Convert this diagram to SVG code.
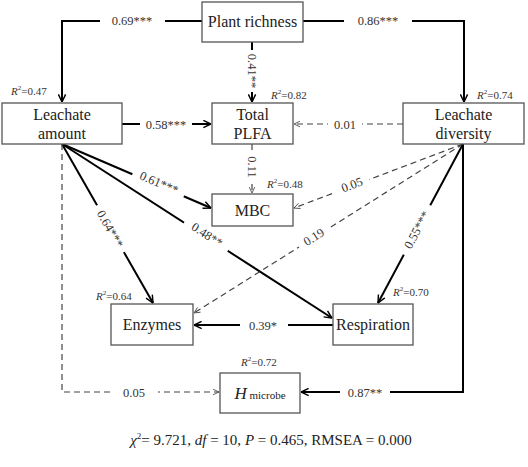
<svg xmlns="http://www.w3.org/2000/svg" width="528" height="467" viewBox="0 0 528 467" font-family="'Liberation Serif', 'Times New Roman', serif">
<defs>
<marker id="a" viewBox="0 0 10 10" refX="9.5" refY="5" markerWidth="9" markerHeight="9" markerUnits="userSpaceOnUse" orient="auto">
<path d="M1,1 L9.5,5 L1,9" fill="none" stroke="#000" stroke-width="1.6"/>
</marker>
<marker id="d" viewBox="0 0 10 10" refX="9.5" refY="5" markerWidth="7" markerHeight="7" markerUnits="userSpaceOnUse" orient="auto">
<path d="M1,1 L9.5,5 L1,9" fill="none" stroke="#444" stroke-width="1.2"/>
</marker>
</defs>
<style>
.box{fill:#fff;stroke:#555;stroke-width:1.3}
.t{font-size:16px;fill:#222;text-anchor:middle}
.l{font-size:12.5px;fill:#333;text-anchor:middle}
.r{font-size:11px;fill:#333}
.s{fill:none;stroke:#000;stroke-width:2}
.dash{fill:none;stroke:#444;stroke-width:1.2;stroke-dasharray:6,4}
.bg{fill:#fff}
</style>
<rect width="528" height="467" fill="#fff"/>
<g id="connectors">
<path class="s" d="M202,21 H62 V102" marker-end="url(#a)"/>
<path class="s" d="M303,21 H464 V102" marker-end="url(#a)"/>
<path class="s" d="M252,42 V102" marker-end="url(#a)"/>
<path class="s" d="M122,124 H211" marker-end="url(#a)"/>
<path class="dash" d="M403,124 H294" marker-end="url(#d)"/>
<path class="dash" d="M252,144 V193" marker-end="url(#d)"/>
<path class="s" d="M62,144 L211,208" marker-end="url(#a)"/>
<path class="s" d="M62,144 L332,318" marker-end="url(#a)"/>
<path class="s" d="M62,144 L153,303" marker-end="url(#a)"/>
<path class="dash" d="M463,144 L294,208" marker-end="url(#d)"/>
<path class="dash" d="M463,144 L194,313" marker-end="url(#d)"/>
<path class="s" d="M463,144 L378,303" marker-end="url(#a)"/>
<path class="s" d="M333,325 H194" marker-end="url(#a)"/>
<path class="dash" d="M62,144 V392 H219" marker-end="url(#d)"/>
<path class="s" d="M463,144 V392 H301" marker-end="url(#a)"/>
</g>
<g id="labels">
<rect class="bg" x="100" y="12" width="65" height="16"/>
<text class="l" x="132" y="25">0.69***</text>
<rect class="bg" x="344" y="12" width="68" height="16"/>
<text class="l" x="378" y="25">0.86***</text>
<rect class="bg" x="245" y="50" width="14" height="42"/>
<text class="l" transform="translate(252,71) rotate(90)" y="4">0.41**</text>
<rect class="bg" x="140" y="116" width="52" height="16"/>
<text class="l" x="166" y="129">0.58***</text>
<rect class="bg" x="328" y="116" width="34" height="16"/>
<text class="l" x="345" y="129">0.01</text>
<rect class="bg" x="245" y="152" width="14" height="30"/>
<text class="l" transform="translate(252,167) rotate(90)" y="4">0.11</text>
<g transform="translate(159,183) rotate(23.1)"><rect class="bg" x="-28" y="-8" width="56" height="15"/><text class="l" y="4">0.61***</text></g>
<g transform="translate(207,235) rotate(32.7)"><rect class="bg" x="-26" y="-8" width="52" height="15"/><text class="l" y="4">0.48**</text></g>
<g transform="translate(110,229) rotate(60.4)"><rect class="bg" x="-27" y="-8" width="54" height="15"/><text class="l" y="4">0.64***</text></g>
<g transform="translate(352,185) rotate(-20.6)"><rect class="bg" x="-18" y="-8" width="36" height="15"/><text class="l" y="4">0.05</text></g>
<g transform="translate(314,237) rotate(-32)"><rect class="bg" x="-18" y="-8" width="36" height="15"/><text class="l" y="4">0.19</text></g>
<g transform="translate(417,230) rotate(-62)"><rect class="bg" x="-28" y="-8" width="56" height="15"/><text class="l" y="4">0.55***</text></g>
<rect class="bg" x="240" y="317" width="48" height="16"/>
<text class="l" x="263" y="330">0.39*</text>
<rect class="bg" x="112" y="384" width="46" height="16"/>
<text class="l" x="134" y="397">0.05</text>
<rect class="bg" x="340" y="384" width="50" height="16"/>
<text class="l" x="365" y="397">0.87**</text>
</g>
<g id="plant-richness">
<rect class="box" x="202" y="2" width="101" height="40"/>
<text class="t" x="252.5" y="27">Plant richness</text>
</g>
<g id="leachate-amount">
<rect class="box" x="2" y="103" width="120" height="41"/>
<text class="t" x="62" y="120">Leachate</text>
<text class="t" x="62" y="139">amount</text>
<text class="r" x="11" y="95"><tspan font-style="italic">R</tspan><tspan font-size="7" dy="-5">2</tspan><tspan dy="5">=0.47</tspan></text>
</g>
<g id="total-plfa">
<rect class="box" x="212" y="103" width="81" height="41"/>
<text class="t" x="252.5" y="120">Total</text>
<text class="t" x="252.5" y="139">PLFA</text>
<text class="r" x="271" y="99"><tspan font-style="italic">R</tspan><tspan font-size="7" dy="-5">2</tspan><tspan dy="5">=0.82</tspan></text>
</g>
<g id="leachate-diversity">
<rect class="box" x="403" y="103" width="121" height="41"/>
<text class="t" x="463.5" y="120">Leachate</text>
<text class="t" x="463.5" y="139">diversity</text>
<text class="r" x="477" y="99"><tspan font-style="italic">R</tspan><tspan font-size="7" dy="-5">2</tspan><tspan dy="5">=0.74</tspan></text>
</g>
<g id="mbc">
<rect class="box" x="212" y="194" width="81" height="32"/>
<text class="t" x="252.5" y="216">MBC</text>
<text class="r" x="267" y="188"><tspan font-style="italic">R</tspan><tspan font-size="7" dy="-5">2</tspan><tspan dy="5">=0.48</tspan></text>
</g>
<g id="enzymes">
<rect class="box" x="111" y="304" width="82" height="41"/>
<text class="t" x="152" y="330">Enzymes</text>
<text class="r" x="96" y="300"><tspan font-style="italic">R</tspan><tspan font-size="7" dy="-5">2</tspan><tspan dy="5">=0.64</tspan></text>
</g>
<g id="respiration">
<rect class="box" x="333" y="304" width="80" height="41"/>
<text class="t" x="373" y="330">Respiration</text>
<text class="r" x="393" y="296"><tspan font-style="italic">R</tspan><tspan font-size="7" dy="-5">2</tspan><tspan dy="5">=0.70</tspan></text>
</g>
<g id="h-microbe">
<rect class="box" x="220" y="373" width="80" height="40"/>
<text class="t" x="260" y="399"><tspan font-style="italic" font-size="17">H</tspan><tspan font-size="11"> microbe</tspan></text>
<text class="r" x="241" y="366"><tspan font-style="italic">R</tspan><tspan font-size="7" dy="-5">2</tspan><tspan dy="5">=0.72</tspan></text>
</g>
<g id="fit">
<text x="271" y="445" font-size="15" fill="#222" text-anchor="middle"><tspan font-style="italic">χ</tspan><tspan font-size="9" dy="-6">2</tspan><tspan dy="6">= 9.721,  </tspan><tspan font-style="italic">df</tspan><tspan> = 10,  </tspan><tspan font-style="italic">P</tspan><tspan> = 0.465,  RMSEA = 0.000</tspan></text>
</g>
</svg>
